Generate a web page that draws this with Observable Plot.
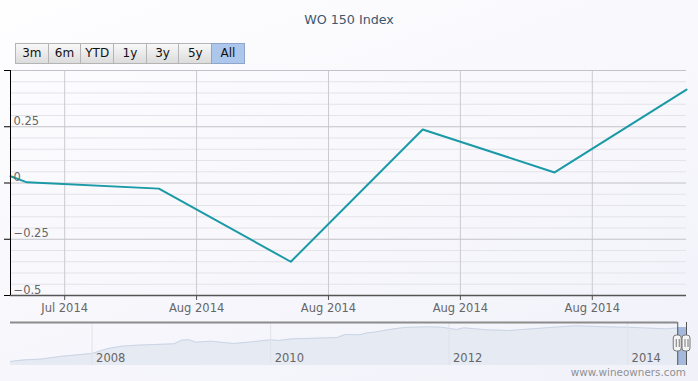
<!DOCTYPE html>
<html><head><meta charset="utf-8">
<script src="https://cdn.jsdelivr.net/npm/d3@7"></script>
<script src="https://cdn.jsdelivr.net/npm/@observablehq/plot@0.6"></script>
<style>
html,body{margin:0;padding:0;}
body{width:698px;height:381px;overflow:hidden;background:linear-gradient(160deg,#fefeff 0%,#f1f1fa 100%);font-family:"DejaVu Sans",sans-serif;position:relative;}
#title{position:absolute;left:0;top:12px;width:698px;text-align:center;font-size:12.7px;color:#3e576f;}
#buttons{position:absolute;left:15px;top:43px;display:flex;}
.btn{box-sizing:border-box;width:33.7px;height:20.5px;margin-right:-1px;border:1px solid #b4b4b4;background:linear-gradient(#f8f8f8,#dcdcdc);font-size:12px;color:#111;display:flex;align-items:center;justify-content:center;}
.btn.sel{background:#adc6ec;border-color:#8ea6cc;}
#main{position:absolute;left:0;top:64px;}
#nav{position:absolute;left:0;top:318px;}
#credits{position:absolute;right:12px;top:366px;font-size:10.4px;color:#909090;}
</style>
</head>
<body>
<div id="title"></div>
<div id="buttons"></div>
<div id="main"></div>
<div id="nav"></div>
<div id="credits"></div>
<script>
// ---- data ----
const titleText = "WO 150 Index";
const creditsText = "www.wineowners.com";
const buttonLabels = ["3m","6m","YTD","1y","3y","5y","All"];
const selectedButton = "All";

const seriesDates = ["2014-07-25T03:00Z","2014-07-26","2014-08-02","2014-08-09","2014-08-16","2014-08-23","2014-08-30"];
const seriesValues = [0.03, 0.003, -0.025, -0.35, 0.238, 0.047, 0.415];

const xTickDates = ["2014-07-28","2014-08-04","2014-08-11","2014-08-18","2014-08-25"];
const yMajorTicks = [-0.5, -0.25, 0, 0.25, 0.5];
const yMajorLabels = ["\u22120.5", "\u22120.25", "0", "0.25", ""];
const yMinorStep = 0.05;

const navDates = ["2007-02","2007-04","2007-06","2007-09","2008-01","2008-03","2008-05","2008-07","2008-12",
  "2009-01","2009-02","2009-03","2009-05","2009-08","2009-10","2010-01","2010-02","2010-04","2010-07",
  "2010-10","2010-11","2011-01","2011-02","2011-03","2011-05","2011-07","2011-10","2011-12","2012-02",
  "2012-03","2012-06","2012-09","2013-02","2013-06","2013-10","2014-02","2014-06","2014-08-30"];
const navValues = [4, 5.7, 6.3, 9.3, 12, 16.7, 19.3, 20.3, 21.7,
  25.3, 25.7, 23.3, 24.3, 22, 23.3, 25.7, 25, 26.7, 27.3,
  28, 31, 30.7, 32.7, 33.3, 36, 38, 38.7, 38.3, 36,
  37.7, 35.7, 35, 37.7, 39.7, 38.7, 38, 36.7, 38];
const navYearTicks = ["2008","2010","2012","2014"];
const navStartDate = "2007-02-01";
const navTop = 43;

// ---- html parts ----
document.getElementById("title").textContent = titleText;
document.getElementById("credits").textContent = creditsText;
const bdiv = document.getElementById("buttons");
for (const b of buttonLabels) {
  const el = document.createElement("div");
  el.className = "btn" + (b === selectedButton ? " sel" : "");
  el.textContent = b;
  bdiv.appendChild(el);
}

// ---- main chart ----
const xStart = new Date(seriesDates[0]);
const xEnd = new Date(seriesDates[seriesDates.length - 1]);
const series = seriesDates.map((d, i) => ({date: new Date(d), value: seriesValues[i]}));
const xTicks = xTickDates.map(d => new Date(d));
const minorTicks = d3.range(-0.5, 0.5001, yMinorStep).map(v => Math.round(v * 100) / 100)
  .filter(v => !yMajorTicks.includes(v));
const yLabelData = yMajorTicks.map((v, i) => ({v, label: yMajorLabels[i]}));

const main = Plot.plot({
  width: 698, height: 256,
  marginTop: 6, marginBottom: 25, marginLeft: 10, marginRight: 12,
  style: {fontFamily: "DejaVu Sans", fontSize: "11.5px", background: "transparent", color: "#666"},
  x: {type: "utc", domain: [xStart, xEnd]},
  y: {domain: [-0.5, 0.5]},
  marks: [
    Plot.ruleY(minorTicks, {stroke: "#e3e3e8"}),
    Plot.ruleX(xTicks, {stroke: "#cacad0"}),
    Plot.ruleY(yMajorTicks, {stroke: "#c2c2c8"}),
    Plot.lineY(series, {x: "date", y: "value", stroke: "#1a99a6", strokeWidth: 2}),
    Plot.axisX({ticks: xTicks, tickFormat: d3.utcFormat("%b %Y"), tickSize: 5, tickPadding: 3, stroke: "#555", fill: "#666", label: null}),
    Plot.axisY({ticks: yMajorTicks, tickSize: 6, tickFormat: () => "", stroke: "#000", label: null}),
    Plot.ruleY([-0.5], {stroke: "#555", strokeWidth: 1.5}),
    Plot.ruleX([xStart], {stroke: "#000"}),
    Plot.text(yLabelData, {x: () => xStart, y: "v", text: "label", textAnchor: "start", lineAnchor: "bottom", dx: 3, dy: -2, fill: "#666"})
  ]
});
document.getElementById("main").appendChild(main);

// ---- navigator ----
const nav = navDates.map((d, i) => ({date: new Date(d), value: navValues[i]}));
const navStart = new Date(navStartDate);
const years = navYearTicks.map(y => new Date(y + "-01-01"));
const handles = [xStart, xEnd];

const navPlot = Plot.plot({
  width: 698, height: 50,
  marginTop: 4, marginBottom: 3, marginLeft: 10, marginRight: 12,
  style: {fontFamily: "DejaVu Sans", fontSize: "11.5px", background: "transparent", color: "#666"},
  x: {type: "utc", domain: [navStart, xEnd], axis: null},
  y: {domain: [0, navTop], axis: null},
  marks: [
    Plot.areaY(nav, {x: "date", y: "value", fill: "#e6eaf3"}),
    Plot.lineY(nav, {x: "date", y: "value", stroke: "#cbd5e5", strokeWidth: 1}),
    Plot.ruleX(years, {y1: 0, y2: navTop, stroke: "#e2e2ea"}),
    Plot.text(years, {x: d => d, text: d => d3.utcFormat("%Y")(d), frameAnchor: "bottom", lineAnchor: "bottom", textAnchor: "start", dx: 4, dy: -4, fill: "#666"}),
    Plot.rect([0], {x1: () => xStart, x2: () => xEnd, y1: 0, y2: () => navValues[navValues.length - 1], fill: "#a4b9dd"}),
    Plot.ruleY([navTop], {x1: () => navStart, x2: () => xStart, stroke: "#8c8c8c", strokeWidth: 2}),
    Plot.ruleX(handles, {y1: 0, y2: navTop, stroke: "#555"}),
    Plot.rect(handles, {x1: d => d, x2: d => d, y1: 14, y2: 30, insetLeft: -4, insetRight: -4, rx: 3, fill: "#f4f4f4", stroke: "#777"}),
    Plot.ruleX(handles, {x: d => d, y1: 18, y2: 26, dx: -1.5, stroke: "#777"}),
    Plot.ruleX(handles, {x: d => d, y1: 18, y2: 26, dx: 1.5, stroke: "#777"})
  ]
});
document.getElementById("nav").appendChild(navPlot);
</script>
</body></html>
